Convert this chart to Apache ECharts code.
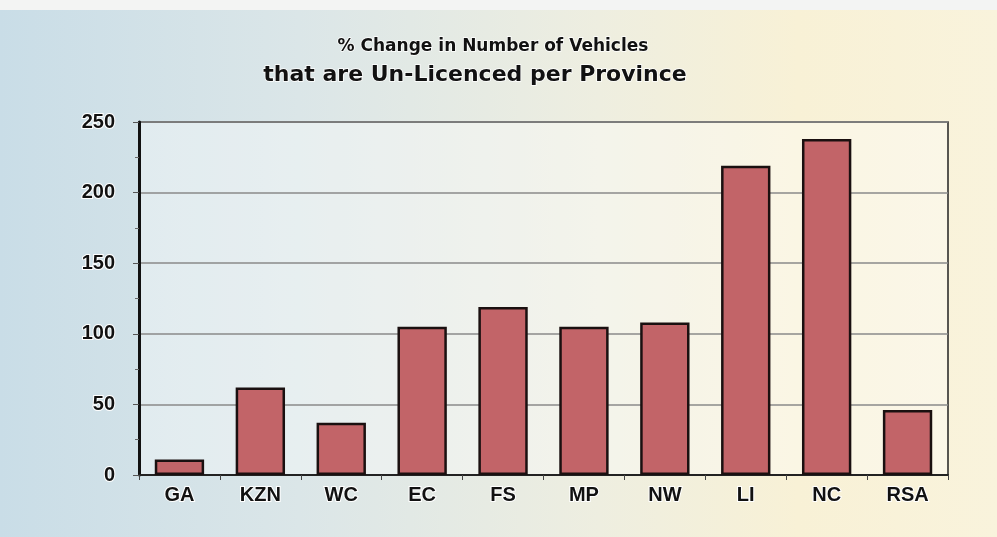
<!DOCTYPE html>
<html>
<head>
<meta charset="utf-8">
<script src="https://cdn.jsdelivr.net/npm/echarts@6/dist/echarts.min.js"></script>
<style>
    html, body { margin: 0; padding: 0; }
    body {
        background: linear-gradient(90deg, #c9dde7 0%, #dbe6e8 30%, #eeeee0 60%, #f8f1d6 80%, #f9f3dc 100%);
    }
    .strip { position: absolute; left: 0; top: 0; width: 997px; height: 10px; background: #f3f4f3; }
    #chart { width: 997px; height: 537px; }
</style>
</head>
<body>
<div class="strip"></div>
<div id="chart"></div>
<script>
    // provinces and % change values
    const provinces = ['GA', 'KZN', 'WC', 'EC', 'FS', 'MP', 'NW', 'LI', 'NC', 'RSA'];
    const pctChange = [11, 62, 37, 105, 119, 105, 108, 219, 238, 46];
    const yTicks = [0, 50, 100, 150, 200, 250];

    const font = '"Liberation Sans", Arial, sans-serif';
    const titleFont = '"DejaVu Sans", Verdana, sans-serif';
    const myChart = echarts.init(document.getElementById('chart'));

    const option = {
        animation: false,
        title: [
            {
                text: '% Change in Number of Vehicles',
                left: 488,
                top: 33,
                textAlign: 'center',
                textStyle: {
                    fontFamily: titleFont, fontSize: 17, fontWeight: 'bold', color: '#111',
                    textBorderColor: '#fff', textBorderWidth: 1.5
                }
            },
            {
                text: 'that are Un-Licenced per Province',
                left: 470,
                top: 59,
                textAlign: 'center',
                textStyle: {
                    fontFamily: titleFont, fontSize: 22, fontWeight: 'bold', color: '#111',
                    textBorderColor: '#fff', textBorderWidth: 1.5
                }
            }
        ],
        grid: {
            left: 139,
            right: 49,
            top: 122,
            bottom: 62,
            show: true,
            backgroundColor: 'rgba(255,255,255,0.35)',
            borderColor: '#222',
            borderWidth: 1.5
        },
        xAxis: {
            type: 'category',
            data: provinces,
            axisLine: { lineStyle: { color: '#222', width: 2 } },
            axisTick: { show: true, length: 5, lineStyle: { color: '#444' } },
            axisLabel: {
                margin: 10,
                fontFamily: font, fontSize: 20, fontWeight: 'bold', color: '#111',
                textBorderColor: '#fff', textBorderWidth: 2
            }
        },
        yAxis: {
            type: 'value',
            min: yTicks[0],
            max: yTicks[yTicks.length - 1],
            interval: 50,
            axisLine: { show: true, lineStyle: { color: '#111', width: 3 } },
            axisTick: { show: true, length: 6, lineStyle: { color: '#555' } },
            minorTick: { show: true, splitNumber: 2, length: 4, lineStyle: { color: '#666' } },
            splitLine: { show: true, lineStyle: { color: '#8a8a8a', width: 1.5 } },
            axisLabel: {
                margin: 24,
                fontFamily: font, fontSize: 20, fontWeight: 'bold', color: '#111',
                textBorderColor: '#fff', textBorderWidth: 2
            }
        },
        series: [
            {
                type: 'bar',
                data: pctChange,
                barWidth: '61%',
                itemStyle: {
                    color: '#c26468',
                    borderColor: '#1a1010',
                    borderWidth: 2.5
                }
            }
        ]
    };

    myChart.setOption(option);
</script>
</body>
</html>
